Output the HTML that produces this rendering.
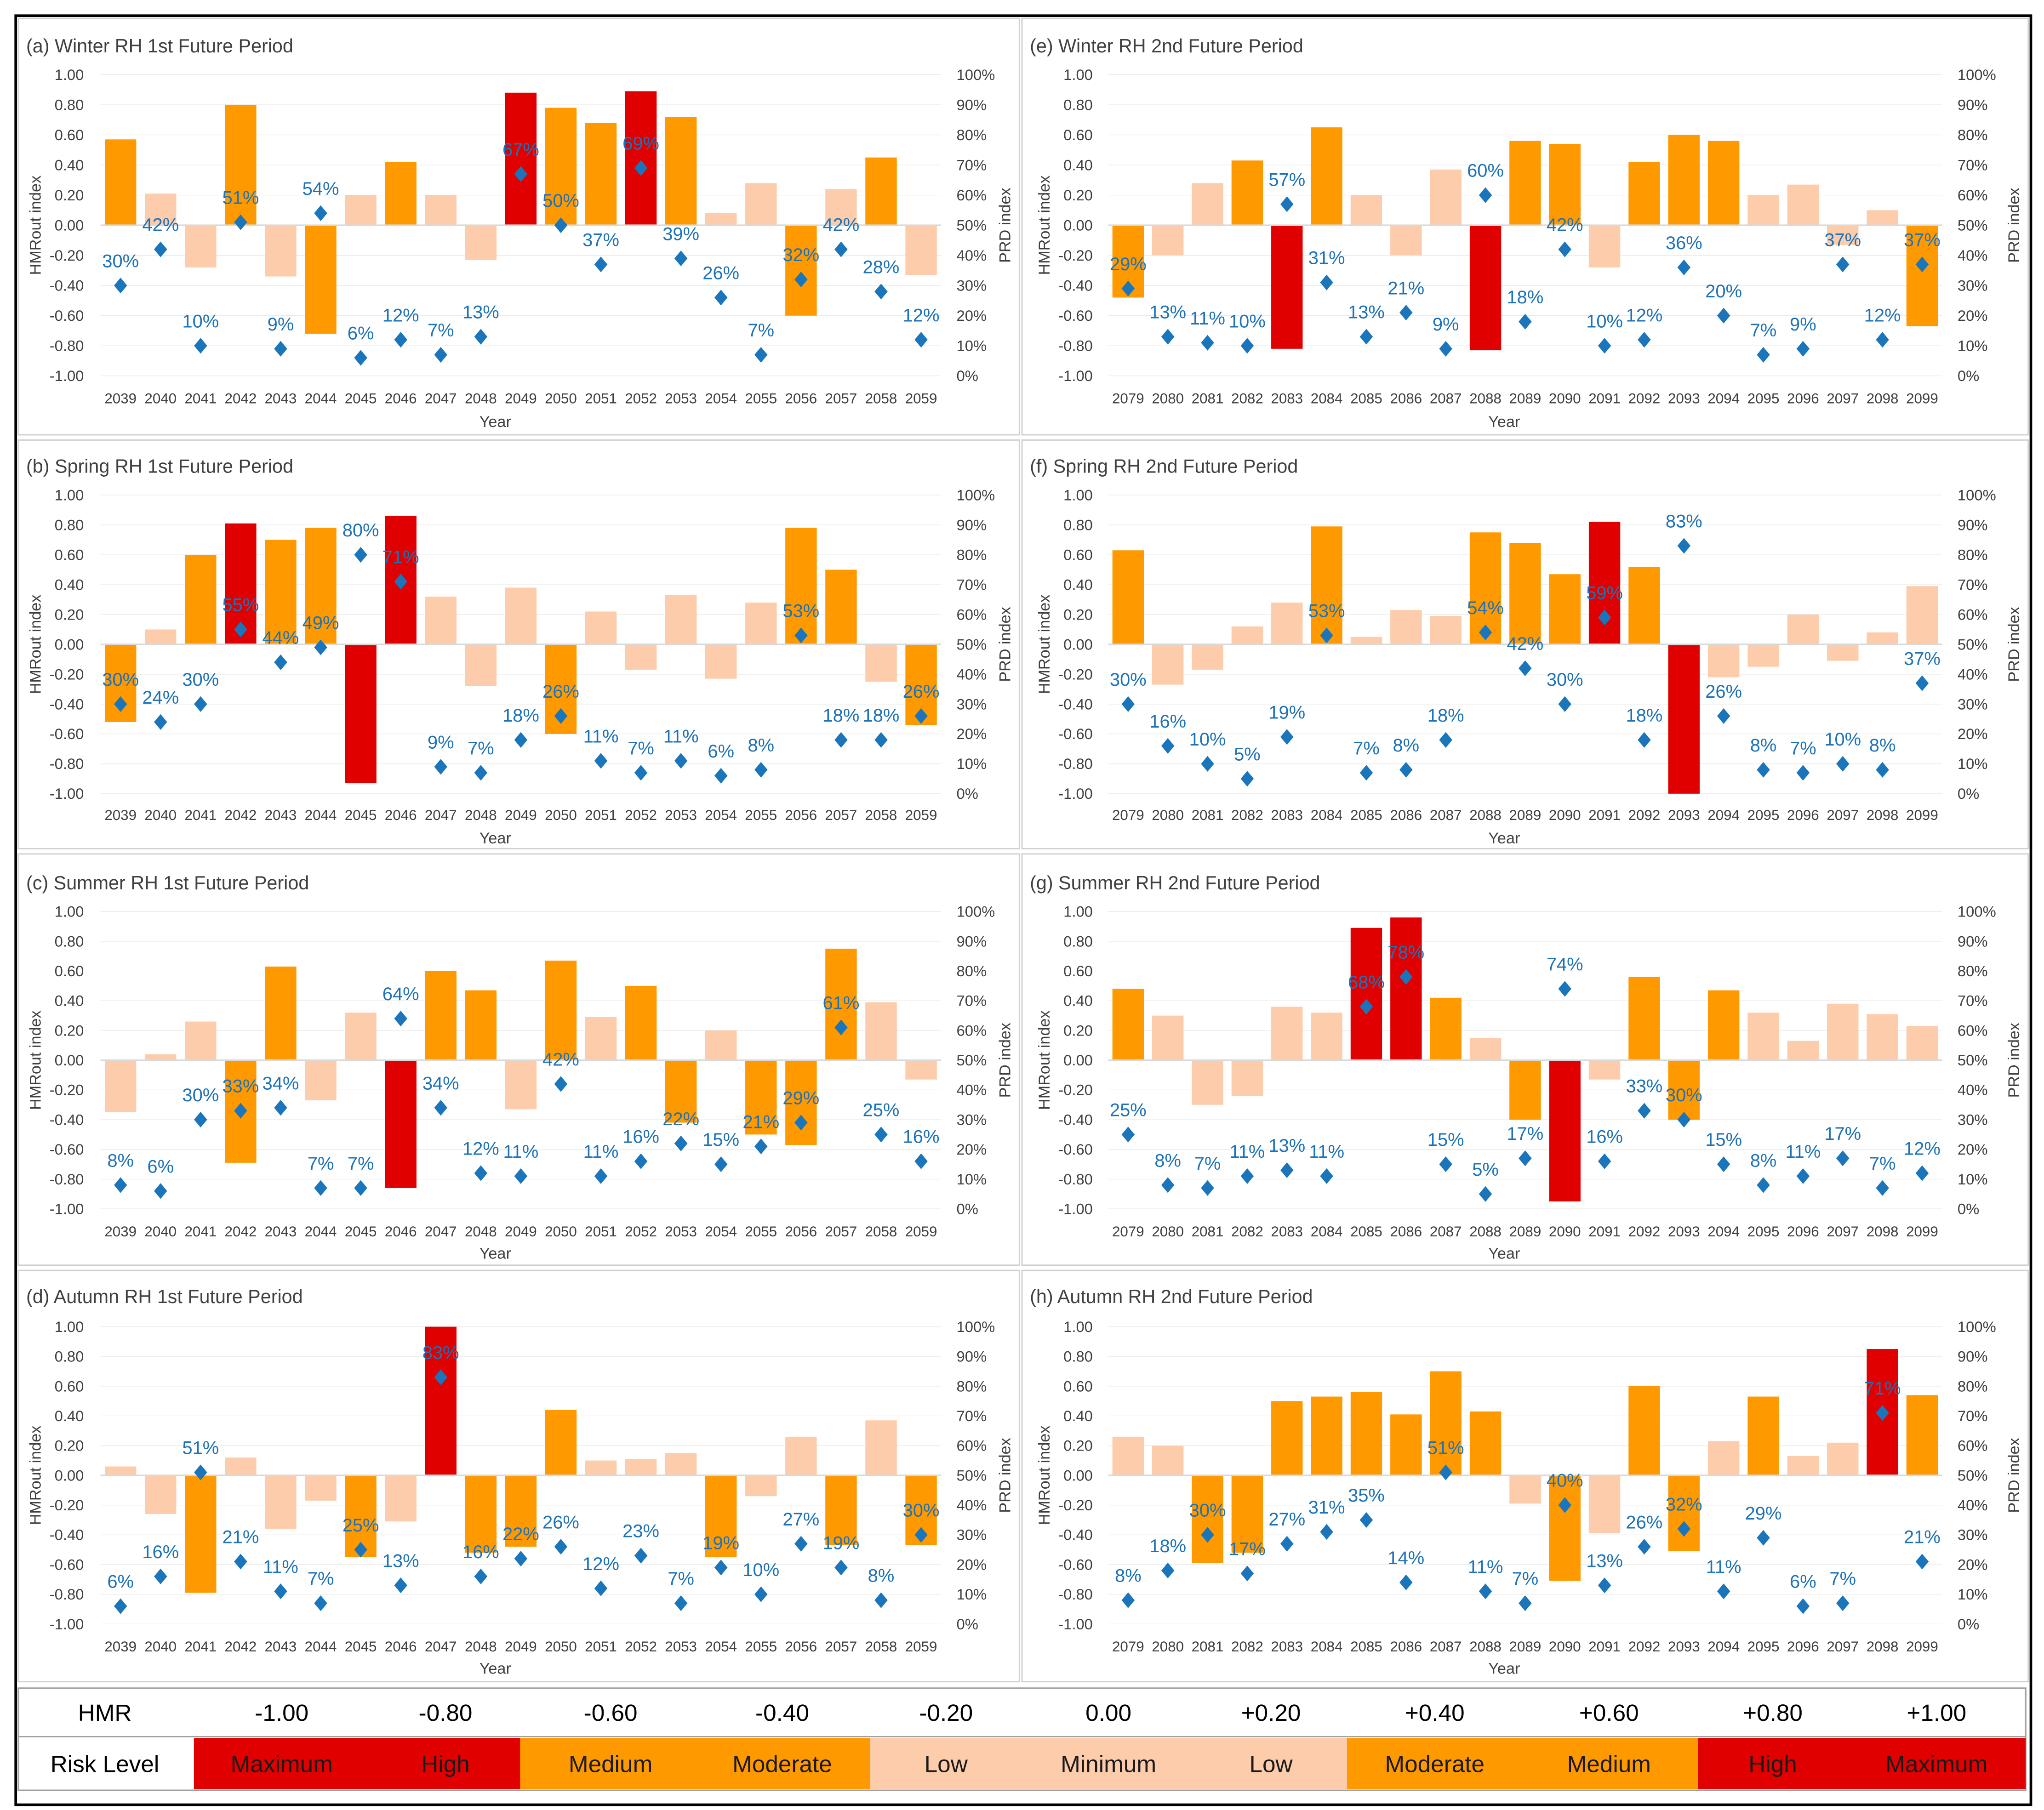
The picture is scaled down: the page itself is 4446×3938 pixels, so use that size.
<!DOCTYPE html>
<html><head><meta charset="utf-8"><title>HMR / PRD risk chart</title>
<style>
html,body{margin:0;padding:0;background:#fff;}
svg{display:block;font-family:"Liberation Sans",sans-serif;}
</style></head>
<body>
<svg id="chart" width="4446" height="3938" viewBox="0 0 1560 1382" preserveAspectRatio="none" xmlns="http://www.w3.org/2000/svg">
<rect x="0" y="0" width="1560" height="1382" fill="#fff"/>
<rect x="12" y="12" width="1538" height="1366" fill="none" stroke="#000" stroke-width="2"/>
<g id="panels"></g>
<g id="legend"></g>
</svg>
<script>
// ---- data ----
const yearsFirst = [2039,2040,2041,2042,2043,2044,2045,2046,2047,2048,2049,2050,2051,2052,2053,2054,2055,2056,2057,2058,2059];
const yearsSecond = [2079,2080,2081,2082,2083,2084,2085,2086,2087,2088,2089,2090,2091,2092,2093,2094,2095,2096,2097,2098,2099];
const hmrA = [0.57,0.21,-0.28,0.80,-0.34,-0.72,0.20,0.42,0.20,-0.23,0.88,0.78,0.68,0.89,0.72,0.08,0.28,-0.60,0.24,0.45,-0.33];
const prdA = [30,42,10,51,9,54,6,12,7,13,67,50,37,69,39,26,7,32,42,28,12];
const hmrE = [-0.48,-0.20,0.28,0.43,-0.82,0.65,0.20,-0.20,0.37,-0.83,0.56,0.54,-0.28,0.42,0.60,0.56,0.20,0.27,-0.13,0.10,-0.67];
const prdE = [29,13,11,10,57,31,13,21,9,60,18,42,10,12,36,20,7,9,37,12,37];
const hmrB = [-0.52,0.10,0.60,0.81,0.70,0.78,-0.93,0.86,0.32,-0.28,0.38,-0.60,0.22,-0.17,0.33,-0.23,0.28,0.78,0.50,-0.25,-0.54];
const prdB = [30,24,30,55,44,49,80,71,9,7,18,26,11,7,11,6,8,53,18,18,26];
const hmrF = [0.63,-0.27,-0.17,0.12,0.28,0.79,0.05,0.23,0.19,0.75,0.68,0.47,0.82,0.52,-1.00,-0.22,-0.15,0.20,-0.11,0.08,0.39];
const prdF = [30,16,10,5,19,53,7,8,18,54,42,30,59,18,83,26,8,7,10,8,37];
const hmrC = [-0.35,0.04,0.26,-0.69,0.63,-0.27,0.32,-0.86,0.60,0.47,-0.33,0.67,0.29,0.50,-0.42,0.20,-0.50,-0.57,0.75,0.39,-0.13];
const prdC = [8,6,30,33,34,7,7,64,34,12,11,42,11,16,22,15,21,29,61,25,16];
const hmrG = [0.48,0.30,-0.30,-0.24,0.36,0.32,0.89,0.96,0.42,0.15,-0.40,-0.95,-0.13,0.56,-0.40,0.47,0.32,0.13,0.38,0.31,0.23];
const prdG = [25,8,7,11,13,11,68,78,15,5,17,74,16,33,30,15,8,11,17,7,12];
const hmrD = [0.06,-0.26,-0.79,0.12,-0.36,-0.17,-0.55,-0.31,1.00,-0.52,-0.48,0.44,0.10,0.11,0.15,-0.55,-0.14,0.26,-0.47,0.37,-0.47];
const prdD = [6,16,51,21,11,7,25,13,83,16,22,26,12,23,7,19,10,27,19,8,30];
const hmrH = [0.26,0.20,-0.59,-0.52,0.50,0.53,0.56,0.41,0.70,0.43,-0.19,-0.71,-0.39,0.60,-0.51,0.23,0.53,0.13,0.22,0.85,0.54];
const prdH = [8,18,30,17,27,31,35,14,51,11,7,40,13,26,32,11,29,6,7,71,21];
const leftTicks = ["1.00","0.80","0.60","0.40","0.20","0.00","-0.20","-0.40","-0.60","-0.80","-1.00"];
const rightTicks = ["100%","90%","80%","70%","60%","50%","40%","30%","20%","10%","0%"];
const titles = ["(a) Winter RH 1st Future Period","(e) Winter RH 2nd Future Period","(b) Spring RH 1st Future Period","(f) Spring RH 2nd Future Period","(c) Summer RH 1st Future Period","(g) Summer RH 2nd Future Period","(d) Autumn RH 1st Future Period","(h) Autumn RH 2nd Future Period"];
const hmrHeaders = ["HMR","-1.00","-0.80","-0.60","-0.40","-0.20","0.00","+0.20","+0.40","+0.60","+0.80","+1.00"];
const riskLabels = ["Maximum","High","Medium","Moderate","Low","Minimum","Low","Moderate","Medium","High","Maximum"];

const NS="http://www.w3.org/2000/svg";
function mk(tag,attrs,parent){const e=document.createElementNS(NS,tag);for(const k in attrs)e.setAttribute(k,attrs[k]);parent.appendChild(e);return e;}
const RED="#e00000",ORANGE="#ff9900",LIGHT="#fdccaa",BLUE="#1b75bb",LBL="#1d72b8",TXT="#404040";
function barColor(v){const a=Math.abs(v);if(a>0.805)return RED;if(a>=0.395)return ORANGE;return LIGHT;}

const cols=[{x0:92,step:30.55,lx:64,rx:730,ytx:27,prdx:767,yearX:378,bx:14,bw:764},
            {x0:861,step:30.3,lx:834,rx:1494,ytx:797,prdx:1537,yearX:1148,bx:780,bw:768}];
const rows=[{top:57,bot:287,title:35,ticks:304,year:322,by:14,bh:318},
            {top:378,bot:606,title:356,ticks:622,year:640,by:336,bh:312},
            {top:696,bot:923,title:674,ticks:940,year:957,by:652,bh:314},
            {top:1013,bot:1240,title:990,ticks:1257,year:1274,by:970,bh:314}];
const panelData=[[yearsFirst,hmrA,prdA],[yearsSecond,hmrE,prdE],[yearsFirst,hmrB,prdB],[yearsSecond,hmrF,prdF],
                 [yearsFirst,hmrC,prdC],[yearsSecond,hmrG,prdG],[yearsFirst,hmrD,prdD],[yearsSecond,hmrH,prdH]];

const root=document.getElementById('panels');
panelData.forEach((pd,i)=>{
  const c=cols[i%2], r=rows[Math.floor(i/2)];
  const [years,hmr,prd]=pd;
  const yS=v=>r.top+(1-v)/2*(r.bot-r.top);
  const pS=p=>r.bot-p/100*(r.bot-r.top);
  const xS=k=>c.x0+k*c.step;
  const g=mk('g',{},root);
  
  
  const box=mk('rect',{x:c.bx,y:r.by,width:c.bw,height:r.bh,fill:'none',stroke:'#d0d0d0','stroke-width':1},g);
  
  
  const t=mk('text',{x:c.bx+6,y:r.title+5,'font-size':14.5,fill:TXT},g);t.textContent=titles[i];
  
  
  const xl=xS(0)-c.step/2, xr=xS(20)+c.step/2;
  leftTicks.forEach((lab,k)=>{
    const v=1-k*0.2, y=yS(v);
    if(Math.abs(v)>1e-6){const gl=mk('line',{x1:xl,x2:xr,y1:y,y2:y,stroke:'#e6e6e6','stroke-width':0.4},g);
      
      }
    const tl=mk('text',{x:c.lx,y:y+4,'font-size':11.5,fill:TXT,'text-anchor':'end'},g);tl.textContent=lab;
    
    
  });
  rightTicks.forEach((lab,k)=>{
    const y=pS(100-k*10);
    const tl=mk('text',{x:c.rx,y:y+4,'font-size':11.5,fill:TXT},g);tl.textContent=lab;
    
    
  });
  hmr.forEach((v,k)=>{
    const y0=yS(0), y1=yS(v);
    const b=mk('rect',{x:xS(k)-12,y:Math.min(y0,y1),width:24,height:Math.abs(y1-y0),fill:barColor(v)},g);
    
    
  });
  const zl=mk('line',{x1:xl,x2:xr,y1:yS(0),y2:yS(0),stroke:'#d9d9d9','stroke-width':1.2},g);
  
  
  years.forEach((yr,k)=>{
    const tl=mk('text',{x:xS(k),y:r.ticks+4,'font-size':11,fill:TXT,'text-anchor':'middle'},g);tl.textContent=yr;
    
    
  });
  prd.forEach((p,k)=>{
    const x=xS(k), y=pS(p);
    const d=mk('polygon',{points:`${x},${y-6} ${x+5},${y} ${x},${y+6} ${x-5},${y}`,fill:BLUE},g);
    
    
    const l=mk('text',{x:x,y:y-14,'font-size':14,fill:LBL,'text-anchor':'middle'},g);l.textContent=p+'%';
    
    
  });
  const yt=mk('text',{x:c.ytx+4,y:(r.top+r.bot)/2,'font-size':12,fill:TXT,'text-anchor':'middle',transform:`rotate(-90 ${c.ytx+4} ${(r.top+r.bot)/2})`},g);yt.textContent='HMRout index';
  
  
  const pt=mk('text',{x:c.prdx+4,y:(r.top+r.bot)/2,'font-size':12,fill:TXT,'text-anchor':'middle',transform:`rotate(-90 ${c.prdx+4} ${(r.top+r.bot)/2})`},g);pt.textContent='PRD index';
  
  
  const xt=mk('text',{x:c.yearX,y:r.year+4,'font-size':12,fill:TXT,'text-anchor':'middle'},g);xt.textContent='Year';
  
  
});

// ---- legend table ----
const lg=document.getElementById('legend');
mk('rect',{x:14,y:1289,width:1532,height:78,fill:'#fff',stroke:'#a0a0a0','stroke-width':1.2},lg);
const hx=[80,215,340,466,597,722,846,970,1095,1228,1353,1478];
hmrHeaders.forEach((h,k)=>{
  const t=mk('text',{x:hx[k],y:1314,'font-size':18,fill:'#000','text-anchor':'middle'},lg);t.textContent=h;
  
  
});
mk('line',{x1:14,x2:1546,y1:1326,y2:1326,stroke:'#a0a0a0','stroke-width':1},lg);
const segs=[[148,397,RED],[397,664,ORANGE],[664,1028,LIGHT],[1028,1296,ORANGE],[1296,1546,RED]];
segs.forEach(s=>{const r=mk('rect',{x:s[0],y:1327,width:s[1]-s[0],height:39,fill:s[2]},lg);
  
  });
const rl=mk('text',{x:80,y:1353,'font-size':18,fill:'#000','text-anchor':'middle'},lg);rl.textContent='Risk Level';


riskLabels.forEach((h,k)=>{
  const t=mk('text',{x:hx[k+1],y:1353,'font-size':18,fill:'#1a1a1a','text-anchor':'middle'},lg);t.textContent=h;
  
  
});
</script>
</body></html>
